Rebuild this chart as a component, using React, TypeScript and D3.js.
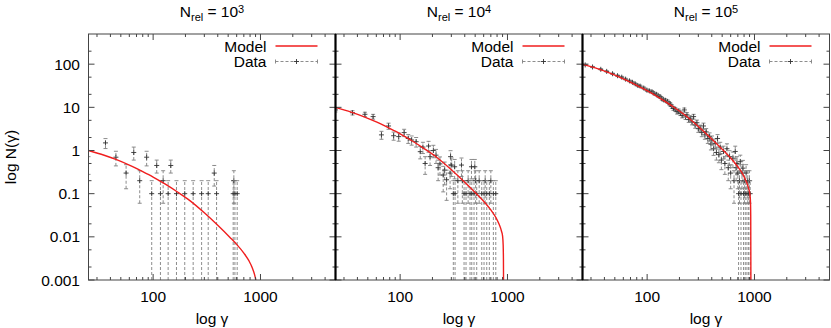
import * as d3 from 'd3';

// Three log-log panels: model (red) vs binned data with y error bars.

const FONT = '"Liberation Sans", Arial, Helvetica, sans-serif';
const W = 831;
const H = 328;
const TOP = 34;
const BOTTOM = 280;
const PANEL_LEFT = [88.5, 335.5, 582.5];
const PANEL_W = 247;

const X_DOMAIN = [25, 5000];
const Y_DOMAIN = [0.001, 500];
const X_MAJOR = [100, 1000];
const X_MAJOR_LABELS = ['100', '1000'];
const X_MINOR = [30, 40, 50, 60, 70, 80, 90, 200, 300, 400, 500, 600, 700, 800, 900, 2000, 3000, 4000];
const Y_MAJOR = [0.001, 0.01, 0.1, 1, 10, 100];
const Y_MAJOR_LABELS = ['0.001', '0.01', '0.1', '1', '10', '100'];
const Y_MINOR = [0.002, 0.005, 0.02, 0.05, 0.2, 0.5, 2, 5, 20, 50, 200];
const TITLE_EXP = ['3', '4', '5'];

// model curves [gamma, N]
const model1 = [
    [25, 1.0], [35, 0.777], [45, 0.62], [60, 0.458], [80, 0.324], [100, 0.243], [130, 0.166],
    [170, 0.108], [220, 0.069], [300, 0.036], [400, 0.0185], [520, 0.0097], [600, 0.0067],
    [700, 0.0042], [780, 0.0028], [840, 0.0019], [880, 0.00135], [905, 0.001],
];
const model2 = [
    [25, 10], [35, 7.77], [45, 6.2], [60, 4.58], [80, 3.24], [100, 2.43], [130, 1.66],
    [170, 1.08], [220, 0.69], [300, 0.36], [400, 0.185], [520, 0.097], [600, 0.067],
    [700, 0.042], [780, 0.028], [840, 0.019], [880, 0.0135], [900, 0.0105], [912, 0.0065],
    [917, 0.003], [919, 0.001],
];
const model3 = [
    [25, 100], [35, 77.7], [45, 62], [60, 45.8], [80, 32.4], [100, 24.3], [130, 16.6],
    [170, 10.8], [220, 6.9], [300, 3.6], [400, 1.85], [520, 0.97], [600, 0.67],
    [700, 0.42], [780, 0.28], [840, 0.19], [880, 0.135], [905, 0.1], [918, 0.065],
    [923, 0.03], [926, 0.001],
];

// data points [gamma, N, error]
const data1 = [
    [25, 0.5, 0.22], [36, 1.5, 0.39], [45, 0.7, 0.26], [56, 0.3, 0.17], [66, 0.9, 0.3],
    [75, 0.2, 0.14], [87, 0.7, 0.26], [97, 0.1, 0.1], [108, 0.45, 0.15], [117, 0.1, 0.1],
    [124, 0.2, 0.14], [138, 0.1, 0.1], [146, 0.45, 0.15], [165, 0.1, 0.1], [197, 0.1, 0.1],
    [236, 0.1, 0.1], [283, 0.1, 0.1], [326, 0.1, 0.1], [371, 0.3, 0.15], [390, 0.1, 0.1],
    [557, 0.1, 0.1], [565, 0.2, 0.14], [578, 0.1, 0.1], [607, 0.1, 0.1],
];
const data2 = [
    [25, 8.7, 0.9], [36, 7.5, 0.85], [47, 6.9, 0.8], [56, 6.1, 0.78], [67, 2.3, 0.48],
    [78, 3.7, 0.6], [87, 2.2, 0.47], [97, 2.1, 0.46], [109, 2.6, 0.5], [119, 1.9, 0.44],
    [128, 1.75, 0.42], [141, 1.6, 0.4], [154, 0.94, 0.3], [163, 1.2, 0.35], [171, 0.5, 0.22],
    [184, 1.27, 0.36], [190, 0.72, 0.27], [204, 1.0, 0.32], [216, 0.78, 0.28], [226, 0.4, 0.2],
    [235, 0.49, 0.22], [252, 0.27, 0.16], [260, 0.35, 0.19], [271, 0.21, 0.14], [292, 0.3, 0.17],
    [295, 0.72, 0.27], [302, 0.46, 0.21], [313, 0.1, 0.1], [322, 0.42, 0.2], [325, 0.1, 0.1],
    [345, 0.2, 0.14], [373, 0.46, 0.21], [380, 0.2, 0.14], [394, 0.1, 0.1], [411, 0.1, 0.1],
    [430, 0.2, 0.14], [448, 0.1, 0.1], [462, 0.42, 0.2], [465, 0.1, 0.1], [488, 0.1, 0.1],
    [496, 0.42, 0.2], [505, 0.2, 0.14], [517, 0.1, 0.1], [545, 0.2, 0.14], [576, 0.1, 0.1],
    [605, 0.1, 0.1], [620, 0.2, 0.14], [641, 0.1, 0.1], [678, 0.1, 0.1], [700, 0.2, 0.14],
    [739, 0.1, 0.1], [778, 0.1, 0.1],
];
const data3 = [
    [26.5, 96, 3.1], [31, 86, 2.9], [37, 76, 2.8], [42, 68, 2.6], [47.6, 60, 2.4],
    [53, 54, 2.3], [58, 50, 2.2], [63, 45, 2.1], [68.5, 41, 2.0], [73, 38, 1.9],
    [77.5, 35, 1.9], [82, 32, 1.8], [86, 31, 1.8], [93, 28, 1.7], [99.5, 25, 1.6],
    [105, 24, 1.5], [111, 23, 1.5], [116, 21, 1.4], [122, 20, 1.4], [127, 18.5, 1.4],
    [132, 17.7, 1.3], [137, 16, 1.3], [142, 15, 1.2], [148, 14.5, 1.2], [155, 13.6, 1.2],
    [160, 12.5, 1.1], [164, 11.8, 1.1], [170, 10.5, 1.0], [176, 9.5, 1.0], [183, 9.0, 0.95],
    [190, 7.9, 0.9], [197, 8.2, 0.9], [204, 7.3, 0.85], [212, 6.5, 0.8], [222, 8.7, 0.93],
    [228, 6.0, 0.78], [235, 6.7, 0.82], [244, 5.2, 0.72], [252, 5.6, 0.75], [262, 4.6, 0.68],
    [271, 6.1, 0.78], [280, 3.9, 0.62], [291, 4.4, 0.66], [300, 3.2, 0.57], [312, 3.3, 0.57],
    [323, 2.6, 0.51], [335, 3.7, 0.61], [345, 2.3, 0.48], [355, 2.7, 0.52], [368, 1.9, 0.44],
    [382, 2.1, 0.46], [393, 1.4, 0.37], [402, 1.75, 0.42], [416, 1.1, 0.33], [431, 1.47, 0.38],
    [442, 0.9, 0.3], [453, 1.9, 0.44], [466, 0.8, 0.28], [480, 1.2, 0.35], [492, 0.6, 0.24],
    [515, 0.95, 0.31], [530, 0.5, 0.22], [554, 1.1, 0.33], [570, 0.4, 0.2], [586, 0.72, 0.27],
    [600, 0.3, 0.17], [630, 0.66, 0.26], [645, 0.2, 0.14], [662, 0.95, 0.31], [675, 0.4, 0.2],
    [687, 0.5, 0.22], [700, 0.3, 0.17], [711, 0.1, 0.1], [725, 0.2, 0.14], [738, 0.55, 0.23],
    [749, 0.1, 0.1], [765, 0.3, 0.17], [781, 0.39, 0.2], [791, 0.1, 0.1], [806, 0.2, 0.14],
    [821, 0.1, 0.1], [836, 0.3, 0.17], [851, 0.1, 0.1], [866, 0.2, 0.14], [882, 0.1, 0.1],
    [898, 0.2, 0.14], [912, 0.1, 0.1],
];

const MODELS = [model1, model2, model3];
const DATA = [data1, data2, data3];

const RED = '#f01e1e';
const BAR = '#808080';
const AXIS = '#444';
const DASH = '3,2';

function Panel({ idx }) {
    const left = PANEL_LEFT[idx];
    const x = d3.scaleLog().domain(X_DOMAIN).range([left, left + PANEL_W]);
    const y = d3.scaleLog().domain(Y_DOMAIN).range([BOTTOM, TOP]);
    const clipId = `clip-${idx}`;
    const cx = left + PANEL_W / 2;

    const line = d3.line()
        .x(d => x(d[0]))
        .y(d => y(d[1]))
        .curve(d3.curveMonotoneX);

    const cap = 2;
    const plus = 2.5;

    return (
        <g>
            <defs>
                <clipPath id={clipId}>
                    <rect x={left} y={TOP} width={PANEL_W} height={BOTTOM - TOP} />
                </clipPath>
            </defs>

            {/* title */}
            <text x={cx} y={17} textAnchor="middle" fontSize={15.5} fill="#000">
                N<tspan fontSize={11} dy={3.7}>rel</tspan>
                <tspan dy={-3.7}> = 10</tspan>
                <tspan fontSize={11} dy={-3.8}>{TITLE_EXP[idx]}</tspan>
            </text>

            {/* data */}
            <g clipPath={`url(#${clipId})`}>
                {DATA[idx].map((d, i) => {
                    const px = x(d[0]);
                    const lo = d[1] - d[2];
                    const yLo = lo > 0 ? y(lo) : BOTTOM + 10;
                    const yHi = y(d[1] + d[2]);
                    const py = y(d[1]);
                    return (
                        <g key={i}>
                            <line x1={px} x2={px} y1={yLo} y2={yHi}
                                stroke={BAR} strokeWidth={0.9} strokeDasharray={DASH} />
                            <line x1={px - cap} x2={px + cap} y1={yHi} y2={yHi}
                                stroke={BAR} strokeWidth={0.9} />
                            {lo > 0 && (
                                <line x1={px - cap} x2={px + cap} y1={yLo} y2={yLo}
                                    stroke={BAR} strokeWidth={0.9} />
                            )}
                            <path d={`M${px - plus},${py}H${px + plus}M${px},${py - plus}V${py + plus}`}
                                stroke="#333" strokeWidth={0.9} fill="none" />
                        </g>
                    );
                })}
                <path d={line(MODELS[idx])} fill="none" stroke={RED} strokeWidth={1.4} />
            </g>

            {/* frame */}
            <rect x={left} y={TOP} width={PANEL_W} height={BOTTOM - TOP}
                fill="none" stroke={AXIS} strokeWidth={1} />

            {/* x ticks (bottom and top) */}
            {X_MAJOR.map(v => (
                <g key={`xM${v}`}>
                    <line x1={x(v)} x2={x(v)} y1={BOTTOM} y2={BOTTOM - 6} stroke={AXIS} />
                    <line x1={x(v)} x2={x(v)} y1={TOP} y2={TOP + 6} stroke={AXIS} />
                </g>
            ))}
            {X_MINOR.map(v => (
                <g key={`xm${v}`}>
                    <line x1={x(v)} x2={x(v)} y1={BOTTOM} y2={BOTTOM - 3} stroke={AXIS} />
                    <line x1={x(v)} x2={x(v)} y1={TOP} y2={TOP + 3} stroke={AXIS} />
                </g>
            ))}
            {X_MAJOR.map((v, i) => (
                <text key={`xl${v}`} x={x(v)} y={301.5} textAnchor="middle" fontSize={15.5}>
                    {X_MAJOR_LABELS[i]}
                </text>
            ))}
            <text x={cx} y={323.5} textAnchor="middle" fontSize={15.5}>log γ</text>

            {/* y ticks (left and right) */}
            {Y_MAJOR.map(v => (
                <g key={`yM${v}`}>
                    <line x1={left} x2={left + 6} y1={y(v)} y2={y(v)} stroke={AXIS} />
                    <line x1={left + PANEL_W} x2={left + PANEL_W - 6} y1={y(v)} y2={y(v)} stroke={AXIS} />
                </g>
            ))}
            {Y_MINOR.map(v => (
                <g key={`ym${v}`}>
                    <line x1={left} x2={left + 3} y1={y(v)} y2={y(v)} stroke={AXIS} />
                    <line x1={left + PANEL_W} x2={left + PANEL_W - 3} y1={y(v)} y2={y(v)} stroke={AXIS} />
                </g>
            ))}
            {idx === 0 && Y_MAJOR.map((v, i) => (
                <text key={`yl${v}`} x={80} y={y(v) + 5.5} textAnchor="end" fontSize={15.5}>
                    {Y_MAJOR_LABELS[i]}
                </text>
            ))}

            {/* legend */}
            <text x={left + 178} y={51.5} textAnchor="end" fontSize={15.5}>Model</text>
            <line x1={left + 187} x2={left + 229} y1={46} y2={46} stroke={RED} strokeWidth={1.4} />
            <text x={left + 178} y={67} textAnchor="end" fontSize={15.5}>Data</text>
            <line x1={left + 187} x2={left + 229} y1={61.5} y2={61.5}
                stroke={BAR} strokeWidth={0.9} strokeDasharray={DASH} />
            <line x1={left + 187} x2={left + 187} y1={59.5} y2={63.5} stroke={BAR} strokeWidth={0.9} />
            <line x1={left + 229} x2={left + 229} y1={59.5} y2={63.5} stroke={BAR} strokeWidth={0.9} />
            <path d={`M${left + 205.5},61.5H${left + 210.5}M${left + 208},59V64`}
                stroke="#333" strokeWidth={0.9} fill="none" />
        </g>
    );
}

export default function App() {
    return (
        <svg width={W} height={H}
            style={{ position: 'absolute', left: 0, top: 0, background: '#fff', fontFamily: FONT }}>
            {[0, 1, 2].map(i => <Panel key={i} idx={i} />)}
            {/* shared panel borders look heavier */}
            {[PANEL_LEFT[1], PANEL_LEFT[2]].map(v => (
                <line key={v} x1={v} x2={v} y1={TOP} y2={BOTTOM} stroke="#000" strokeWidth={2.2} />
            ))}
            <text transform={`rotate(-90, 15.5, 157)`} x={15.5} y={157} textAnchor="middle" fontSize={15.5}>
                log N(γ)
            </text>
        </svg>
    );
}
